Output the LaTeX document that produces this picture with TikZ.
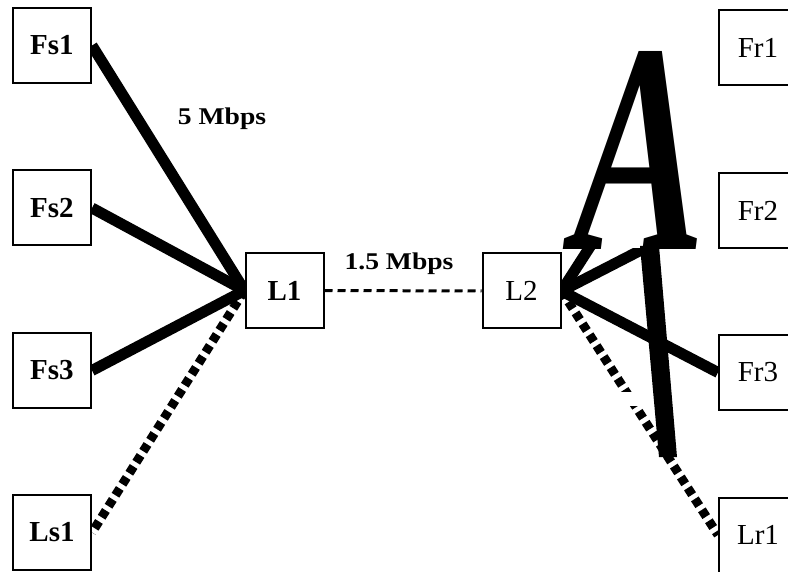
\documentclass[tikz,border=0pt]{standalone}
\usepackage{fontspec}
\setmainfont{Liberation Serif}
\usetikzlibrary{backgrounds}
\begin{document}
\begin{tikzpicture}[x=1pt,y=-1pt,
  box/.style={draw, line width=2pt, fill=white, minimum width=78pt, minimum height=75pt, inner sep=0pt, font=\fontsize{29}{30}\selectfont},
  boldbox/.style={box, font=\fontsize{29}{30}\selectfont\bfseries},
  thicklink/.style={line width=11pt},
  dotlink/.style={line width=9pt, dash pattern=on 8pt off 5pt},
  dashlink/.style={line width=3pt, dash pattern=on 8pt off 5pt},
  ratelbl/.style={inner sep=0pt, font=\fontsize{24}{26}\selectfont\bfseries, xscale=1.15}
]
\useasboundingbox (0,0) rectangle (788,572);
\clip (0,0) rectangle (788,572);
% nodes
\node[boldbox] (fs1) at (52,45.5) {Fs1};
\node[boldbox] (fs2) at (52,208) {Fs2};
\node[boldbox] (fs3) at (52,370.5) {Fs3};
\node[boldbox] (ls1) at (52,532.5) {Ls1};
\node[boldbox] (l1) at (284.5,290.5) {L1};
\node[box] (l2) at (521.5,291) {L2};
\node[box] (fr1) at (758,48) {Fr1};
\node[box] (fr2) at (758,210.5) {Fr2};
\node[box] (fr3) at (758,372.5) {Fr3};
\node[box] (lr1) at (758,535) {Lr1};
\node[ratelbl] (r5) at (222,119) {5 Mbps};
\node[ratelbl] (r15) at (399,264) {1.5 Mbps};
% connectors
\begin{pgfonlayer}{background}
\draw[thicklink] (fs1.east) -- (l1.west);
\draw[thicklink] (fs2.east) -- (l1.west);
\draw[thicklink] (fs3.east) -- (l1.west);
\draw[dotlink] (l1.west) -- (ls1.east);
\draw[dashlink] (l1.east) -- (l2.west);
\draw[thicklink] (l2.east) -- (fr1.west);
\draw[thicklink] (l2.east) -- (fr2.west);
\draw[thicklink] (l2.east) -- (fr3.west);
\draw[dotlink] (l2.east) -- (lr1.west);
\end{pgfonlayer}
% overlaid big letter
\fill[white] (566,30) rectangle (718,248);
\fill[white] (615,392) rectangle (645,406);
\node[inner sep=0pt, anchor=base, font=\fontsize{300}{300}\selectfont\bfseries\itshape, xscale=0.66] (bigA) at (640,250) {A};
\fill (640,246) -- (659,246) -- (677,457) -- (659,457) -- cycle;
\end{tikzpicture}
\end{document}
